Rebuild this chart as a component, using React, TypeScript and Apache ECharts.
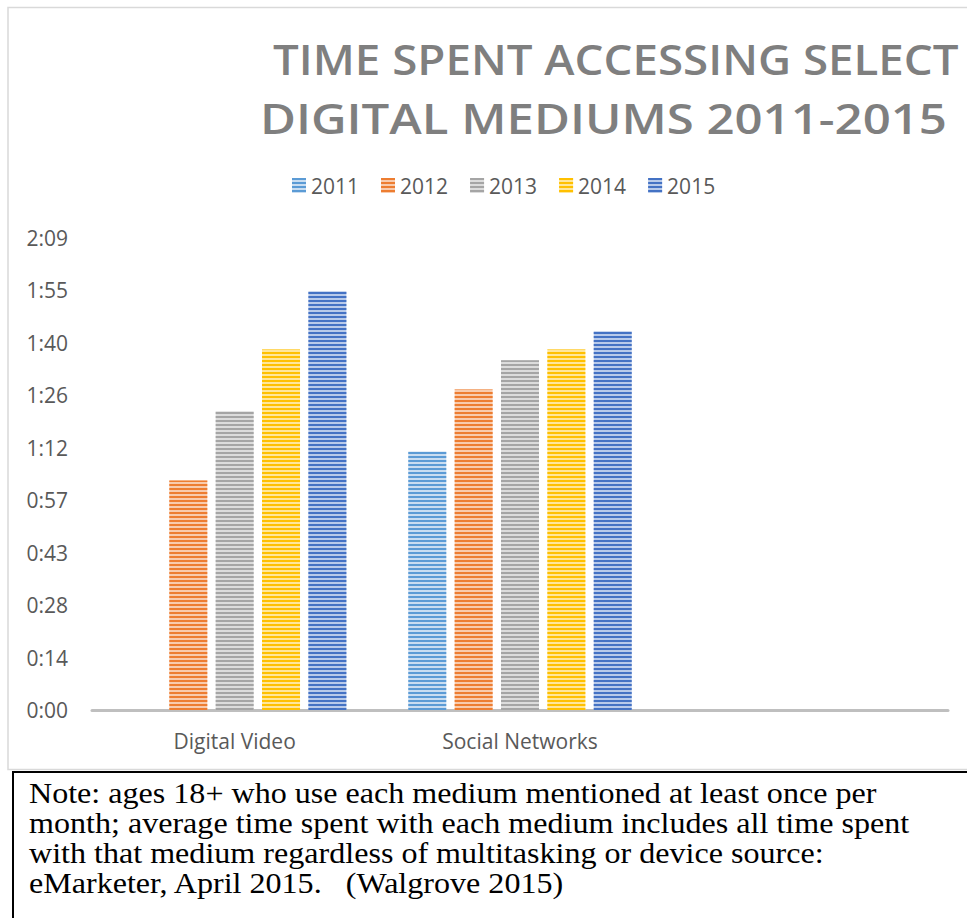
import React, { useEffect, useRef } from 'react';
import * as echarts from 'echarts';

const categories = ['Digital Video', 'Social Networks', ''];
const years = ['2011', '2012', '2013', '2014', '2015'];
// minutes per day
const digitalVideo = [null, 63, 82, 99, 115];
const socialNetworks = [71, 88, 96, 99, 104];
const yTickLabels = ['0:00', '0:14', '0:28', '0:43', '0:57', '1:12', '1:26', '1:40', '1:55', '2:09'];
const yInterval = 14.4;
const titleLines = ['TIME SPENT ACCESSING SELECT', 'DIGITAL MEDIUMS 2011-2015'];
const noteLines = [
  'Note: ages 18+ who use each medium mentioned at least once per',
  'month; average time spent with each medium includes all time spent',
  'with that medium regardless of multitasking or device source:',
  'eMarketer, April 2015.   (Walgrove 2015)',
];
const stripeColors = ['#5B9BD5', '#ED7D31', '#A5A5A5', '#FFC000', '#4472C4'];
const tintColors = ['#C9DDF1', '#F8CBAD', '#DCDCDC', '#FFE699', '#B8CAEA'];

const TITLE_FONT = "600 42px 'Open Sans'";
const NOTE_FONT = "30px 'Liberation Serif'";

function measure(text: string, font: string): number {
  const c = document.createElement('canvas');
  const ctx = c.getContext('2d');
  if (!ctx) return 1;
  ctx.font = font;
  return ctx.measureText(text).width || 1;
}

export default function App() {
  const ref = useRef<HTMLDivElement>(null);
  useEffect(() => {
    if (!ref.current) return;
    const chart = echarts.init(ref.current, null, { renderer: 'svg' });

    const titleSpecs = [
      { x: 273, right: 959, y: 59 },
      { x: 260, right: 947, y: 117 },
    ];
    // first note line spans from x=29 to x=877 in the reference
    const noteScale = (877 - 29) / measure(noteLines[0], NOTE_FONT);

    const graphics: any[] = [
      {
        type: 'rect',
        shape: { x: 8, y: 7.5, width: 1200, height: 762 },
        style: { fill: 'none', stroke: '#D9D9D9', lineWidth: 1.5 },
        silent: true,
      },
      {
        type: 'rect',
        shape: { x: 13, y: 772, width: 1200, height: 400 },
        style: { fill: 'none', stroke: '#000000', lineWidth: 2 },
        silent: true,
      },
      ...titleLines.map((t, i) => {
        const w = measure(t, TITLE_FONT);
        const spec = titleSpecs[i];
        return {
          type: 'text',
          x: spec.x,
          y: spec.y,
          scaleX: (spec.right - spec.x) / w,
          silent: true,
          style: {
            text: t,
            font: TITLE_FONT,
            fill: '#7F7F7F',
            textAlign: 'left',
            textVerticalAlign: 'middle',
          },
        };
      }),
      ...noteLines.map((t, i) => ({
        type: 'text',
        x: 29,
        y: 778 + i * 30,
        scaleX: noteScale,
        silent: true,
        style: {
          text: t,
          font: NOTE_FONT,
          lineHeight: 30,
          fill: '#000000',
          textAlign: 'left',
          textVerticalAlign: 'top',
        },
      })),
    ];

    const series = years.map((y, i) => ({
      name: y,
      type: 'bar',
      barWidth: 38,
      barGap: '22%',
      data: [digitalVideo[i], socialNetworks[i], null],
      itemStyle: {
        color: tintColors[i],
        decal: {
          symbol: 'rect',
          symbolSize: 1,
          symbolKeepAspect: false,
          dashArrayX: [[5, 0]],
          dashArrayY: [2, 2],
          rotation: 0,
          color: stripeColors[i],
        },
      },
      emphasis: { disabled: true },
    }));

    chart.setOption({
      animation: false,
      backgroundColor: '#FFFFFF',
      graphic: graphics,
      legend: {
        top: 170,
        left: 287,
        itemWidth: 14,
        itemHeight: 15,
        itemGap: 22,
        icon: 'rect',
        textStyle: { fontSize: 21, color: '#595959', fontFamily: 'Open Sans' },
        data: years,
      },
      grid: { left: 92, right: 19, top: 238, bottom: 208, containLabel: false },
      xAxis: {
        type: 'category',
        data: categories,
        axisLine: { show: true, lineStyle: { color: '#BFBFBF', width: 3 } },
        axisTick: { show: false },
        axisLabel: { fontSize: 21, color: '#595959', fontFamily: 'Open Sans', margin: 20 },
        splitLine: { show: false },
      },
      yAxis: {
        type: 'value',
        min: 0,
        max: yInterval * (yTickLabels.length - 1),
        interval: yInterval,
        axisLine: { show: false },
        axisTick: { show: false },
        splitLine: { show: false },
        axisLabel: {
          fontSize: 21,
          color: '#595959',
          fontFamily: 'Open Sans',
          margin: 24,
          formatter: (v: number) => yTickLabels[Math.round(v / yInterval)] ?? '',
        },
      },
      series,
    });

    return () => chart.dispose();
  }, []);

  return (
    <div
      ref={ref}
      style={{ position: 'fixed', left: 0, top: 0, width: 967, height: 918, background: '#fff' }}
    />
  );
}
